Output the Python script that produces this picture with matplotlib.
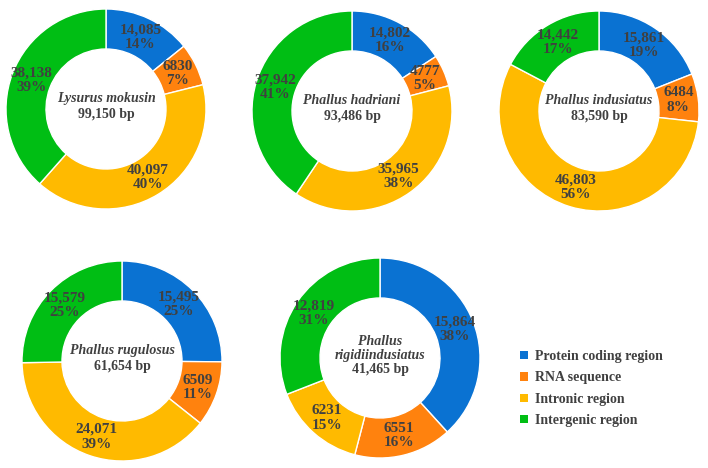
import numpy as np
import matplotlib.pyplot as plt
from matplotlib.patches import Patch

# data
species = ['Lysurus mokusin', 'Phallus hadriani', 'Phallus indusiatus',
           'Phallus rugulosus', 'Phallus\nrigidiindusiatus']
totals = [99150, 93486, 83590, 61654, 41465]
protein = [14085, 14802, 15861, 15495, 15864]
rna = [6830, 4777, 6484, 6509, 6551]
intronic = [40097, 35965, 46803, 24071, 6231]
intergenic = [38138, 37942, 14442, 15579, 12819]
# percentages as printed on the figure
percents = [[14, 7, 40, 39], [16, 5, 38, 41], [19, 8, 56, 17],
            [25, 11, 39, 25], [38, 16, 15, 31]]
categories = ['Protein coding region', 'RNA sequence', 'Intronic region', 'Intergenic region']
colors = ['#0A72D2', '#FF820E', '#FFBA00', '#00BE14']

TXT = '#404040'
W, H = 708, 468
R = 100  # outer radius in px
# donut centres in pixels (x, y from top)
centers = [(106, 109), (352, 111), (599, 111), (122, 361), (380, 358)]

plt.rcParams['font.family'] = 'Liberation Serif'
plt.rcParams['font.weight'] = 'bold'

fig = plt.figure(figsize=(W / 100, H / 100), dpi=100)


def fmt(v):
    '''comma only for 5 digit numbers, like the original'''
    return f'{v:,}' if v >= 10000 else str(v)


for i, (cx, cy) in enumerate(centers):
    ax = fig.add_axes([(cx - R) / W, (H - cy - R) / H, 2 * R / W, 2 * R / H])
    vals = [protein[i], rna[i], intronic[i], intergenic[i]]
    wedges, _ = ax.pie(vals, colors=colors, startangle=90, counterclock=False,
                       radius=1, wedgeprops=dict(width=0.4, edgecolor='white', linewidth=1))
    ax.set_xlim(-1, 1)
    ax.set_ylim(-1, 1)
    # value + percent labels in the middle of the ring
    for w, v, p in zip(wedges, vals, percents[i]):
        ang = np.deg2rad((w.theta1 + w.theta2) / 2)
        ax.text(0.8 * np.cos(ang), 0.8 * np.sin(ang), f'{fmt(v)}\n{p}%',
                ha='center', va='center', fontsize=11, color=TXT, linespacing=1.15)
    # centre text: species name (italic) and genome size
    lines = species[i].split('\n')
    n = len(lines)
    if n > 1:
        y0, step = 0.13, 0.14
    else:
        y0, step = 0.07, 0.16
    for k, ln in enumerate(lines):
        ax.text(0, y0 - k * step, ln, ha='center', va='baseline', fontsize=10,
                style='italic', color=TXT)
    ax.text(0, y0 - n * step, f'{totals[i]:,} bp', ha='center', va='baseline',
            fontsize=10, color=TXT)

handles = [Patch(facecolor=c, edgecolor='none') for c in colors]
fig.legend(handles, categories, loc='upper left', bbox_to_anchor=(520 / W, 1 - 350 / H),
           frameon=False, fontsize=10, labelcolor=TXT, handlelength=0.55, handleheight=0.55,
           handletextpad=0.5, labelspacing=0.6, borderpad=0, borderaxespad=0)

fig.savefig('out.png', dpi=100)
